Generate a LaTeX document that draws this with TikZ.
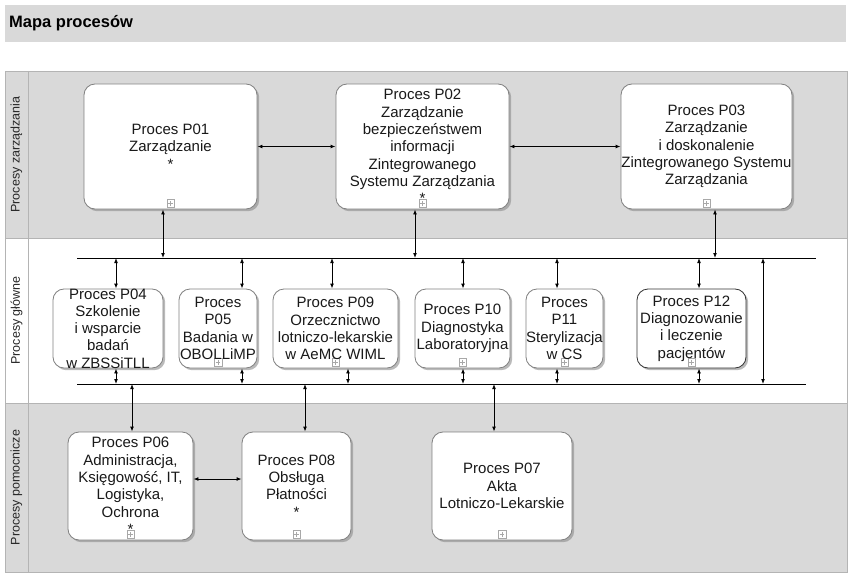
\documentclass[tikz,border=0pt]{standalone}
\usepackage{fontspec}
\setmainfont{Liberation Sans}
\usetikzlibrary{arrows.meta,shadows}
\definecolor{lanegray}{HTML}{D9D9D9}
\definecolor{edgegray}{HTML}{B4B4B4}
\definecolor{boxedge}{HTML}{808080}
\definecolor{icongray}{HTML}{A8A8A8}
\begin{document}
\begin{tikzpicture}[x=1pt,y=-1pt,
  procbox/.style={rectangle, rounded corners=11pt, draw=boxedge, fill=white, line width=0.8pt,
    inner sep=0pt, drop shadow={shadow xshift=2.2pt, shadow yshift=-2.2pt, fill=black!45, opacity=0.6}},
  ptext/.style={align=center, inner sep=0pt, text=black!90, font=\fontsize{15}{17.3}\selectfont},
  lanelabel/.style={rotate=90, inner sep=0pt, text=black!85, font=\fontsize{12.5}{14}\selectfont},
  subicon/.style={rectangle, draw=icongray, fill=white, line width=0.5pt, minimum size=7.5pt, inner sep=0pt,
    path picture={\draw[icongray, line width=0.5pt]
      ([yshift=-1.6pt]path picture bounding box.north) -- ([yshift=1.6pt]path picture bounding box.south)
      ([xshift=1.6pt]path picture bounding box.west) -- ([xshift=-1.6pt]path picture bounding box.east);}},
  conn/.style={draw=black, line width=0.8pt, {Latex[length=5pt,width=3.8pt]}-{Latex[length=5pt,width=3.8pt]}},
  bus/.style={draw=black, line width=0.8pt}
]
\useasboundingbox (0,0) rectangle (852,578);
% title bar
\fill[lanegray] (5,5) rectangle (846,42);
\node[anchor=west, inner sep=0pt, font=\bfseries\fontsize{16.5}{19}\selectfont] (title) at (9,23) {Mapa procesów};
% lanes
\fill[lanegray] (5,71) rectangle (847,238);
\fill[white] (5,238) rectangle (847,403);
\fill[lanegray] (5,403) rectangle (847,572);
\draw[edgegray, line width=0.8pt] (5,71) rectangle (847,572);
\draw[edgegray, line width=0.8pt] (5,238) -- (847,238) (5,403) -- (847,403) (28,71) -- (28,572);
\node[lanelabel] (l1) at (16.5,154.5) {Procesy zarządzania};
\node[lanelabel] (l2) at (16.5,320.5) {Procesy główne};
\node[lanelabel] (l3) at (16.5,487.5) {Procesy pomocnicze};

% management boxes
\node[procbox, minimum width=173pt, minimum height=125pt] (p01) at (170.5,146.5) {};
\node[procbox, minimum width=173pt, minimum height=125pt] (p02) at (422.5,146.5) {};
\node[procbox, minimum width=171pt, minimum height=125pt] (p03) at (706.5,146.5) {};
% main boxes
\node[procbox, minimum width=110pt, minimum height=79pt] (p04) at (108,328.5) {};
\node[procbox, minimum width=78pt, minimum height=79pt] (p05) at (218,328.5) {};
\node[procbox, minimum width=125pt, minimum height=79pt] (p09) at (335.5,328.5) {};
\node[procbox, minimum width=95pt, minimum height=79pt] (p10) at (462.5,328.5) {};
\node[procbox, minimum width=77pt, minimum height=79pt] (p11) at (564.5,328.5) {};
\node[procbox, draw=black!80, minimum width=109pt, minimum height=79pt] (p12) at (691.5,328.5) {};
% support boxes
\node[procbox, minimum width=125pt, minimum height=108pt] (p06) at (130.5,486) {};
\node[procbox, minimum width=109pt, minimum height=108pt] (p08) at (296.5,486) {};
\node[procbox, minimum width=140pt, minimum height=108pt] (p07) at (502,486) {};

% sub-process markers
\foreach \b in {p01,p02,p03,p05,p09,p10,p11,p12,p06,p08,p07}
  \node[subicon] (\b i) at ([yshift=6pt]\b.south) {};

% texts
\node[ptext] (p01t) at (p01) {Proces P01\\Zarządzanie\\*};
\node[ptext] (p02t) at (p02) {Proces P02\\Zarządzanie\\bezpieczeństwem\\informacji\\Zintegrowanego\\Systemu Zarządzania\\*};
\node[ptext] (p03t) at (p03) {Proces P03\\Zarządzanie\\i doskonalenie\\Zintegrowanego Systemu\\Zarządzania};
\node[ptext] (p04t) at (p04) {Proces P04\\Szkolenie\\i wsparcie\\badań\\w ZBSSiTLL};
\node[ptext] (p05t) at (p05) {Proces\\P05\\Badania w\\OBOLLiMP};
\node[ptext] (p09t) at (p09) {Proces P09\\Orzecznictwo\\lotniczo-lekarskie\\w AeMC WIML};
\node[ptext] (p10t) at (p10) {Proces P10\\Diagnostyka\\Laboratoryjna};
\node[ptext] (p11t) at (p11) {Proces\\P11\\Sterylizacja\\w CS};
\node[ptext] (p12t) at (p12) {Proces P12\\Diagnozowanie\\i leczenie\\pacjentów};
\node[ptext] (p06t) at (p06) {Proces P06\\Administracja,\\Księgowość, IT,\\Logistyka,\\Ochrona\\*};
\node[ptext] (p08t) at (p08) {Proces P08\\Obsługa\\Płatności\\*};
\node[ptext] (p07t) at (p07) {Proces P07\\Akta\\Lotniczo-Lekarskie};

% buses
\coordinate (tb0) at (77,258);
\coordinate (tb1) at (816,258);
\coordinate (bb0) at (77,384);
\coordinate (bb1) at (806,384);
\draw[bus] (tb0) -- (tb1);
\draw[bus] (bb0) -- (bb1);

% management connectors
\draw[conn] (p01.east) -- (p02.west);
\draw[conn] (p02.east) -- (p03.west);
\coordinate (c01) at (163,258);
\coordinate (c02) at (415,258);
\coordinate (c03) at (715,258);
\draw[conn] (c01 |- p01.south) -- (c01);
\draw[conn] (c02 |- p02.south) -- (c02);
\draw[conn] (c03 |- p03.south) -- (c03);

% main lane connectors (top)
\foreach \b/\x in {p04/116,p05/242,p09/332,p10/463,p11/557,p12/699}{
  \coordinate (\b top) at (\x,258);
  \draw[conn] (\b top) -- (\b top |- \b.north);
}
% main lane connectors (bottom)
\foreach \b/\x in {p04/116,p05/242,p09/348,p10/463,p11/557,p12/699}{
  \coordinate (\b bot) at (\x,384);
  \draw[conn] (\b bot |- \b.south) -- (\b bot);
}
% right vertical
\coordinate (rv0) at (763,258);
\coordinate (rv1) at (763,384);
\draw[conn] (rv0) -- (rv1);

% support connectors
\coordinate (s06) at (132,384);
\coordinate (s08) at (305,384);
\coordinate (s07) at (494,384);
\draw[conn] (s06) -- (s06 |- p06.north);
\draw[conn] (s08) -- (s08 |- p08.north);
\draw[conn] (s07) -- (s07 |- p07.north);
\coordinate (h68) at (0,479);
\draw[conn] (p06.east |- h68) -- (p08.west |- h68);
\end{tikzpicture}
\end{document}
